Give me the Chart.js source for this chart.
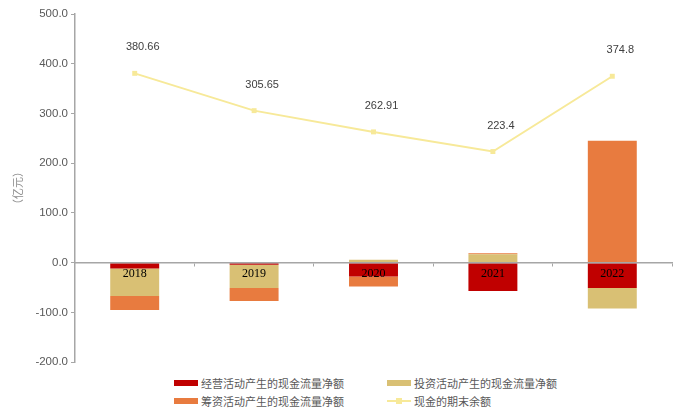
<!DOCTYPE html>
<html>
<head>
<meta charset="utf-8">
<script src="https://cdn.jsdelivr.net/npm/chart.js@4/dist/chart.umd.min.js"></script>
<style>
  body { margin: 0; background: #fff; }
  #wrap { position: relative; width: 684px; height: 410px; }
  #box { position: absolute; left: 0; top: 0; width: 684px; height: 372px; }
  #legend {
    position: absolute; left: 174px; top: 375px; width: 420px;
    display: grid; grid-template-columns: 213px 207px; row-gap: 3px;
    font: 11px "Noto Sans CJK SC", sans-serif; color: #595959;
  }
  .item { display: flex; align-items: center; height: 15px; white-space: nowrap; }
  .swatch { width: 24px; height: 6px; margin-right: 3px; }
  .lineKey { position: relative; width: 24px; height: 6px; margin-right: 3px; }
  .lineKey i { position: absolute; left: 0; right: 0; top: 2px; height: 2px; }
  .lineKey b { position: absolute; left: 9px; top: 0; width: 6px; height: 6px; }
</style>
</head>
<body>
<div id="wrap">
  <div id="box"><canvas id="cash"></canvas></div>
  <div id="legend"></div>
</div>
<script>
const years = ['2018', '2019', '2020', '2021', '2022'];
const operating = [-12, -4, -28, -57, -51];
const investing = [-55, -47, 6, 17, -41];
const financing = [-28, -26, -20, 2, 245];
const endingCash = [380.66, 305.65, 262.91, 223.4, 374.8];
const yTicks = [500, 400, 300, 200, 100, 0, -100, -200];

const RED = '#C00000';
const TAN = '#D9C074';
const ORANGE = '#E87B3F';
const YELLOW = '#F7E999';

// value labels above the ending-cash line
const cashLabels = {
  id: 'cashLabels',
  afterDatasetsDraw(chart) {
    const meta = chart.getDatasetMeta(3);
    const ctx = chart.ctx;
    ctx.save();
    ctx.font = '11px "Liberation Sans", Arial, sans-serif';
    ctx.fillStyle = '#404040';
    ctx.textAlign = 'center';
    ctx.textBaseline = 'middle';
    meta.data.forEach((pt, i) => {
      ctx.fillText(String(endingCash[i]), pt.x + 8, pt.y - 26);
    });
    ctx.restore();
  }
};

const chart = new Chart(document.getElementById('cash'), {
  data: {
    labels: years,
    datasets: [
      { type: 'bar', label: '经营活动产生的现金流量净额', data: operating, backgroundColor: RED },
      { type: 'bar', label: '投资活动产生的现金流量净额', data: investing, backgroundColor: TAN },
      { type: 'bar', label: '筹资活动产生的现金流量净额', data: financing, backgroundColor: ORANGE },
      {
        type: 'line', label: '现金的期末余额', data: endingCash,
        borderColor: YELLOW, backgroundColor: YELLOW, borderWidth: 2,
        pointStyle: 'rect', pointRadius: 3.5, pointBorderWidth: 0, tension: 0
      }
    ]
  },
  options: {
    responsive: true,
    maintainAspectRatio: false,
    animation: false,
    datasets: { bar: { categoryPercentage: 1, barPercentage: 0.41 } },
    layout: { padding: { top: 14, right: 12, bottom: 2, left: 0 } },
    plugins: { legend: { display: false }, tooltip: { enabled: false } },
    scales: {
      x: {
        stacked: true,
        position: { y: 0 },
        border: { color: '#A6A6A6', width: 1.5, z: 1 },
        grid: { display: true, offset: true, drawOnChartArea: false, tickLength: 3, color: '#A6A6A6' },
        ticks: { z: 1, color: '#000', padding: 1, font: { family: '"Liberation Serif", "Times New Roman", serif', size: 12 } }
      },
      y: {
        stacked: true,
        min: -200, max: 500,
        afterFit(scale) { scale.width = 75; },
        afterBuildTicks(scale) { scale.ticks = yTicks.map(v => ({ value: v })); },
        border: { color: '#A6A6A6', width: 1.5 },
        grid: { display: true, drawOnChartArea: false, tickLength: 4, color: '#A6A6A6' },
        ticks: {
          color: '#595959', padding: 3,
          font: { family: '"Liberation Sans", Arial, sans-serif', size: 11.5 },
          callback: v => v.toFixed(1)
        },
        title: {
          display: true, text: '（亿元）', color: '#8C8C8C', padding: { top: 11 },
          font: { family: '"Noto Sans CJK SC", sans-serif', size: 11 }
        }
      }
    }
  },
  plugins: [cashLabels]
});

// two-column legend under the plot
const legend = document.getElementById('legend');
[0, 1, 2, 3].forEach(i => {
  const ds = chart.data.datasets[i];
  const item = document.createElement('div');
  item.className = 'item';
  if (ds.type === 'line') {
    item.innerHTML = '<span class="lineKey"><i style="background:' + ds.borderColor + '"></i><b style="background:' + ds.borderColor + '"></b></span>';
  } else {
    item.innerHTML = '<span class="swatch" style="background:' + ds.backgroundColor + '"></span>';
  }
  const text = document.createElement('span');
  text.textContent = ds.label;
  item.appendChild(text);
  legend.appendChild(item);
});
</script>
</body>
</html>
